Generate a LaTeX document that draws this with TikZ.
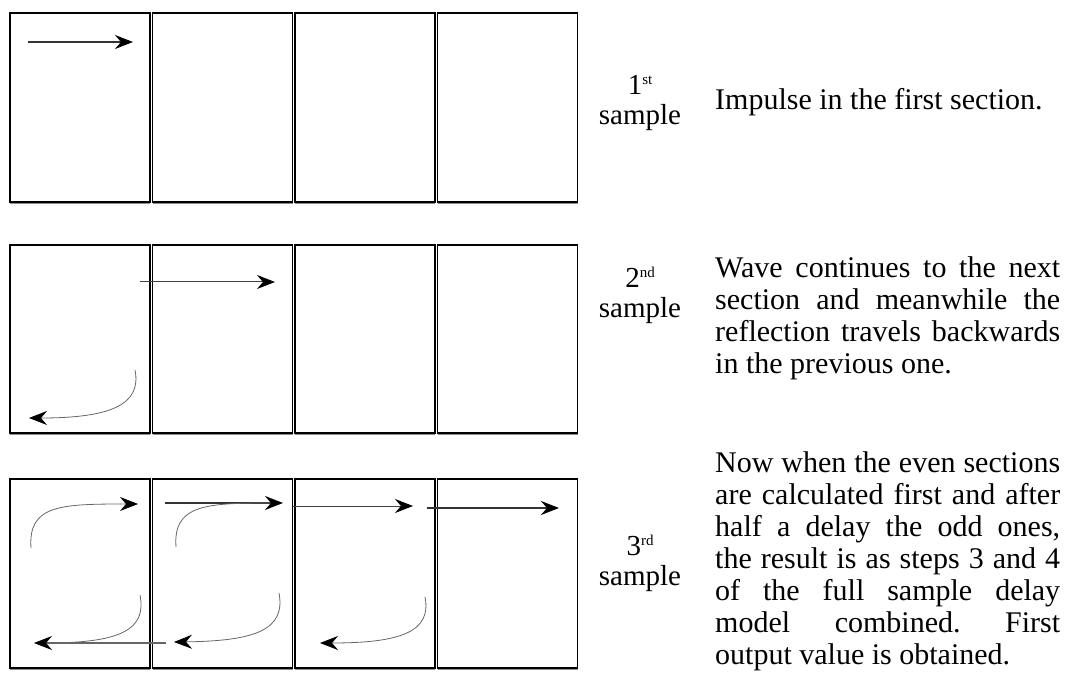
\documentclass[tikz,border=0pt]{standalone}
\usepackage{fontspec}
\setmainfont{Liberation Serif}
\usetikzlibrary{arrows.meta}
\newcommand{\ordsup}[1]{\raisebox{10pt}{\fontsize{15}{15}\selectfont #1}}

\begin{document}
\begin{tikzpicture}[x=1pt, y=-1pt, >={Stealth[length=18pt, width=14pt, inset=6pt, color=black]},
    secbox/.style={line width=1.8pt, black},
    boxshade/.style={line width=1.6pt, black!45},
    wave/.style={->, line width=1.8pt, black!80},
    thinwave/.style={->, line width=1pt, black!75},
    reflect/.style={line width=0.8pt, black!60},
    samplelabel/.style={font=\fontsize{29}{30}\selectfont, inner sep=0pt, anchor=base, align=center},
    note/.style={font=\fontsize{30}{32}\selectfont\frenchspacing, inner sep=0pt, anchor=base west,
        text width=345pt, align=justify}]
    \useasboundingbox (0,0) rectangle (1066,684);

    % 1. Ba hang, moi hang bon doan
    \foreach \t/\b in {13/202, 245/433, 479/668}
        \foreach \l in {10, 152.5, 295, 437.5} {
            \draw[boxshade] (\l,\b+1.6) -- (\l+140,\b+1.6);
            \draw[secbox] (\l,\t) rectangle (\l+140,\b);
        }

    % 2. Mau thu nhat
    \draw[wave] (28,42) -- (133,42);

    % 3. Mau thu hai
    \draw[thinwave] (140,282) -- (275,282);
    \draw[reflect, ->] (135,370) .. controls (142,405) and (110,418) .. (29,418);

    % 4. Mau thu ba
    % doan 1
    \draw[reflect, ->] (31,548) .. controls (28,505) and (60,504) .. (138,504);
    \draw[reflect, line width=1.2pt] (166,643) -- (45,643);
    \draw[reflect, ->] (140,595) .. controls (147,630) and (120,643) .. (34,643);
    % doan 2
    \draw[wave] (165,503) -- (283,503);
    \draw[reflect] (176,547) .. controls (173,505) and (205,503) .. (270,503);
    \draw[reflect, ->] (279,593) .. controls (286,630) and (255,641) .. (174,642);
    % doan 3
    \draw[thinwave] (293,506) -- (413,506);
    \draw[reflect, ->] (425,597) .. controls (432,632) and (400,643) .. (320,643);
    % doan 4
    \draw[wave] (427,508) -- (559,508);

    % 5. Chu thich (moc o dong "sample")
    \node[samplelabel] (first) at (640,125) {1\ordsup{st}\\sample};
    \node[samplelabel] (second) at (640,318) {2\ordsup{nd}\\sample};
    \node[samplelabel] (third) at (640,585) {3\ordsup{rd}\\sample};

    \node[note] (impulse) at (715,110) {Impulse in the first section.};
    \node[note] (continues) at (715,278) {Wave continues to the next\linebreak
        section and meanwhile the\linebreak reflection travels backwards\linebreak
        in the previous one.};
    \node[note] (combined) at (715,473) {Now when the even sections\linebreak
        are calculated first and after\linebreak half a delay the odd ones,\linebreak
        the result is as steps 3 and 4\linebreak of the full sample delay\linebreak
        model combined. First\linebreak output value is obtained.};
\end{tikzpicture}
\end{document}
